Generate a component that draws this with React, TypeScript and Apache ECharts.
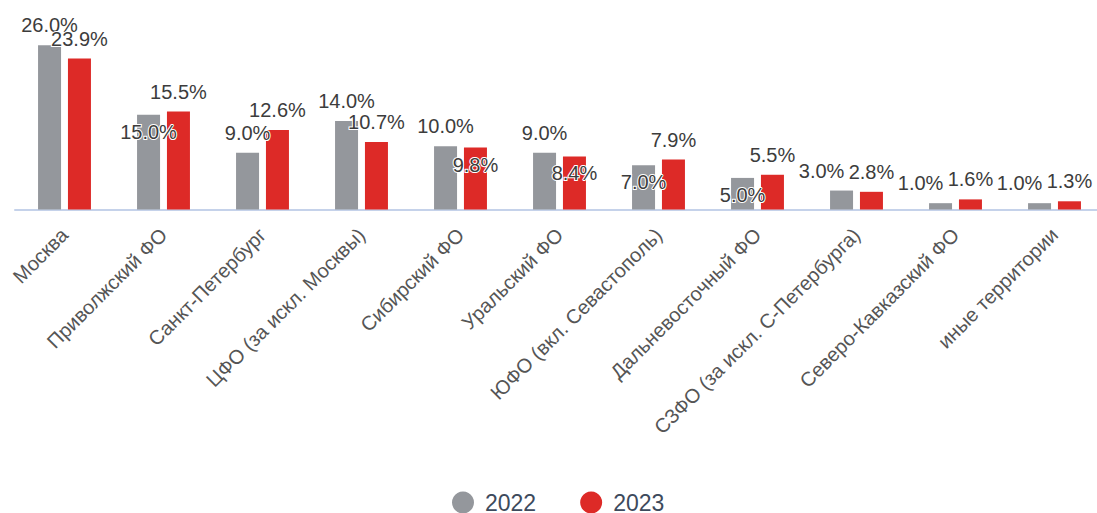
import React, { useEffect, useRef } from "react";
import * as echarts from "echarts";

const categories = [
  "Москва",
  "Приволжский ФО",
  "Санкт-Петербург",
  "ЦФО (за искл. Москвы)",
  "Сибирский ФО",
  "Уральский ФО",
  "ЮФО (вкл. Севастополь)",
  "Дальневосточный ФО",
  "СЗФО (за искл. С-Петербурга)",
  "Северо-Кавказский ФО",
  "иные территории",
];
const series2022 = [26.0, 15.0, 9.0, 14.0, 10.0, 9.0, 7.0, 5.0, 3.0, 1.0, 1.0];
const series2023 = [23.9, 15.5, 12.6, 10.7, 9.8, 8.4, 7.9, 5.5, 2.8, 1.6, 1.3];
const legendNames = ["2022", "2023"];

// label nudges (index -> [dx, dy]) to mimic the original label layout
const offsets2022: Record<number, number[]> = { 1: [0, 37], 6: [0, 37], 7: [0, 37], 8: [-20, 0], 9: [-20, 0], 10: [-20, 0] };
const offsets2023: Record<number, number[]> = { 4: [0, 37], 5: [0, 37] };

const FONT = "'Liberation Sans', Arial, sans-serif";

export default function App() {
  const ref = useRef<HTMLDivElement>(null);
  useEffect(() => {
    if (!ref.current) return;
    const chart = echarts.init(ref.current, undefined, { renderer: "svg" });
    const mk = (vals: number[], offs: Record<number, number[]>) =>
      vals.map((v, i) => (offs[i] ? { value: v, label: { offset: offs[i] } } : v));
    const label = {
      show: true,
      position: "top",
      distance: 10,
      fontSize: 20,
      fontFamily: FONT,
      color: "#3c3c3c",
      textBorderColor: "#ffffff",
      textBorderWidth: 2,
      formatter: (p: any) => Number(p.value).toFixed(1) + "%",
    };
    chart.setOption({
      animation: false,
      textStyle: { fontFamily: FONT },
      grid: { left: 15, right: 0, top: 20, bottom: 303.5, containLabel: false },
      legend: {
        data: legendNames,
        left: 452,
        top: 491,
        padding: 0,
        icon: "circle",
        itemWidth: 22,
        itemHeight: 22,
        itemGap: 44,
        textStyle: { fontSize: 23, color: "#3d4a5c", fontFamily: FONT, padding: [0, 0, 0, 6] },
      },
      xAxis: {
        type: "category",
        data: categories,
        axisLine: { lineStyle: { color: "#c5d2ea", width: 2 } },
        axisTick: { show: false },
        axisLabel: {
          rotate: 45,
          interval: 0,
          margin: 22,
          fontSize: 20,
          color: "#555555",
          fontFamily: FONT,
        },
      },
      yAxis: {
        type: "value",
        min: 0,
        max: 30,
        show: false,
        splitLine: { show: false },
      },
      series: [
        {
          name: legendNames[0],
          type: "bar",
          data: mk(series2022, offsets2022),
          barWidth: 23,
          barGap: "30%",
          itemStyle: { color: "#94979c" },
          label,
        },
        {
          name: legendNames[1],
          type: "bar",
          data: mk(series2023, offsets2023),
          barWidth: 23,
          barGap: "30%",
          itemStyle: { color: "#dd2a27" },
          label,
        },
      ],
    });
    return () => chart.dispose();
  }, []);
  return (
    <div
      style={{ position: "absolute", left: 0, top: 0, width: 1097, height: 513, overflow: "hidden", background: "#fff" }}
    >
      <div ref={ref} style={{ width: 1104, height: 513 }} />
    </div>
  );
}
